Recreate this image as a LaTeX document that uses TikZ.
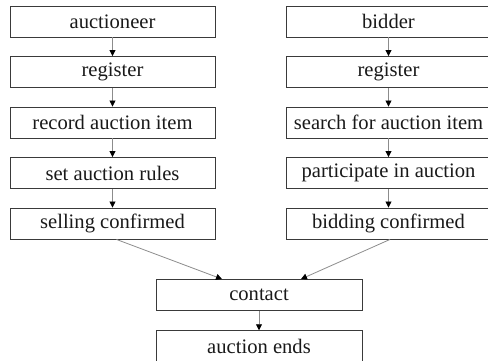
\documentclass[tikz,border=0pt]{standalone}
\usepackage{fontspec}
\setmainfont{Liberation Serif}
\usetikzlibrary{arrows.meta,calc}
\definecolor{boxline}{HTML}{3A3A3A}
\definecolor{linkline}{HTML}{8C8C8C}
\begin{document}
\begin{tikzpicture}[x=1pt,y=-1pt,
  stepbox/.style={draw=boxline,line width=0.9pt,minimum width=205pt,minimum height=31pt,
    inner sep=0pt,font=\fontsize{20.6}{24}\selectfont,text=black!90},
  link/.style={draw=linkline,line width=0.8pt,-{Triangle[length=6pt,width=6pt,fill=black,color=black]}}]
\useasboundingbox (0,0) rectangle (488,360);
% auctioneer column
\node[stepbox] (a1) at (112.5,21.5) {auctioneer};
\node[stepbox] (a2) at (112.5,72) {register};
\node[stepbox] (a3) at (112.5,122.5) {record auction item};
\node[stepbox] (a4) at (112.5,173) {set auction rules};
\node[stepbox] (a5) at (112.5,223.5) {selling confirmed};
% bidder column
\node[stepbox] (b1) at (388.5,21.5) {bidder};
\node[stepbox] (b2) at (388.5,72) {register};
\node[stepbox] (b3) at (388.5,122.5) {search for auction item};
\node[stepbox] (b4) at (388.5,173) {participate in auction};
\node[stepbox] (b5) at (388.5,223.5) {bidding confirmed};
% shared ending
\node[stepbox,minimum width=206pt] (c) at (259,295) {contact};
\node[stepbox,minimum width=206pt] (e) at (259,346.2) {auction ends};
% connectors
\foreach \s/\t in {a1/a2,a2/a3,a3/a4,a4/a5,b1/b2,b2/b3,b3/b4,b4/b5,c/e}
  \draw[link] (\s.south) -- (\t.north);
\draw[link] ([xshift=4pt]a5.south) -- ([xshift=-37pt]c.north);
\draw[link] ([xshift=1.5pt]b5.south) -- ([xshift=42pt]c.north);
\end{tikzpicture}
\end{document}
